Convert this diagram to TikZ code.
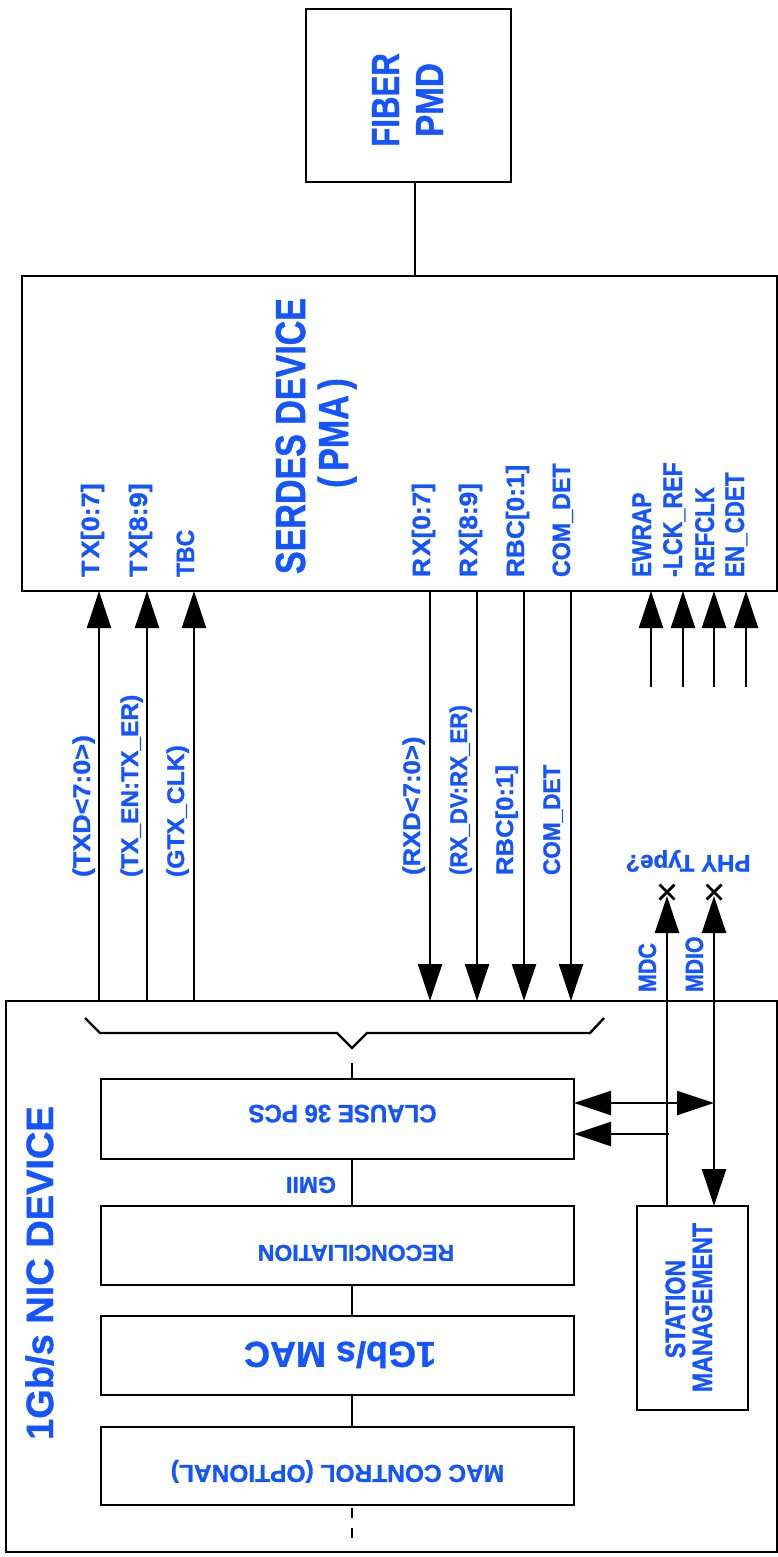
\documentclass[tikz,border=0pt]{standalone}
\usepackage{fontspec}
\setmainfont{Liberation Sans}[BoldFeatures={FakeBold=1.2}]
\usepackage{graphicx}
\usetikzlibrary{arrows.meta}
\definecolor{nicblue}{RGB}{20,85,255}
\newcommand\setfs[1]{\fontsize{#1}{#1}\selectfont\bfseries}
\newcommand\sx[2]{\scalebox{#1}[1]{#2}}
\begin{document}
\begin{tikzpicture}[x=1pt,y=-1pt,
  box/.style={draw, line width=2.6pt, inner sep=0pt, outer sep=0pt},
  wire/.style={line width=2.4pt},
  BigTri/.tip={Triangle[length=37pt,width=24pt]},
  lab/.style={text=nicblue, inner sep=0pt, outer sep=0pt},
  pin/.style={lab, rotate=90, anchor=base west},
  vlab/.style={lab, rotate=90, anchor=base},
  flip/.style={lab, rotate=180, anchor=base},
]
\useasboundingbox (0,0) rectangle (778,1557);

% boxes
\node[box, minimum width=205pt, minimum height=173pt] (fiber) at (408.5,95.5) {};
\node[box, minimum width=755pt, minimum height=315pt] (serdes) at (399.5,433.5) {};
\node[box, minimum width=771pt, minimum height=551pt] (nic) at (391.5,1276.5) {};
\node[box, minimum width=473pt, minimum height=80pt] (pcs) at (337.5,1119) {};
\node[box, minimum width=473pt, minimum height=79pt] (recon) at (337.5,1245.5) {};
\node[box, minimum width=473pt, minimum height=79pt] (mac) at (337.5,1355.5) {};
\node[box, minimum width=473pt, minimum height=78pt] (macctl) at (337.5,1466) {};
\node[box, minimum width=111pt, minimum height=204pt] (sm) at (692.5,1308) {};

% box titles
\node[vlab, font=\setfs{39}] (fib1) at (399,100) {\sx{0.8}{FIBER}};
\node[vlab, font=\setfs{39}] (fib2) at (443,100) {\sx{0.85}{PMD}};
\node[vlab, font=\setfs{42}] (ser1) at (305,436) {\sx{0.81}{SERDES DEVICE}};
\node[vlab, font=\setfs{42}] (ser2) at (348,433) {\sx{0.81}{(\,PMA\,)}};
\node[vlab, font=\setfs{38}] (nict) at (53,1273) {1Gb/s NIC DEVICE};
\node[vlab, font=\setfs{28}] (sm1) at (685,1309) {\sx{0.83}{STATION}};
\node[vlab, font=\setfs{28}] (sm2) at (712,1307.5) {\sx{0.83}{MANAGEMENT}};
\node[flip, font=\setfs{25}] (pcst) at (342.5,1105) {\sx{0.96}{CLAUSE 36 PCS}};
\node[flip, font=\setfs{23}] (gmii) at (311,1177) {GMII};
\node[flip, font=\setfs{23}] (rect) at (356,1245) {RECONCILIATION};
\node[flip, font=\setfs{36}] (mact) at (340,1342) {1Gb/s MAC};
\node[flip, font=\setfs{24.5}] (mcct) at (337.5,1465) {MAC CONTROL (OPTIONAL)};
\node[flip, font=\setfs{24}] (phy) at (688,855) {PHY Type?};

% SERDES pin labels
\node[pin, font=\setfs{25}] at (99,577) {\sx{1.08}{T\kern2pt X[0:7]}};
\node[pin, font=\setfs{25}] at (147,577) {\sx{1.08}{T\kern2pt X[8:9]}};
\node[pin, font=\setfs{25}] at (194,577) {\sx{0.92}{TBC}};
\node[pin, font=\setfs{25}] at (430,577) {\sx{1.05}{R\kern2pt X[0:7]}};
\node[pin, font=\setfs{25}] at (477,577) {\sx{1.05}{R\kern2pt X[8:9]}};
\node[pin, font=\setfs{25}] at (524,577) {\sx{1.05}{RBC[0:1]}};
\node[pin, font=\setfs{25}] at (570,577) {\sx{0.93}{COM\_DET}};
\node[pin, font=\setfs{27}] at (651,577) {\sx{0.84}{EWRAP}};
\node[pin, font=\setfs{27}] at (682,577) {\sx{0.86}{-LCK\_REF}};
\node[pin, font=\setfs{27}] at (714,577) {\sx{0.82}{REFCLK}};
\node[pin, font=\setfs{27}] at (744,577) {\sx{0.83}{EN\_CDET}};

% bus labels
\node[pin, font=\setfs{24}] at (90,877) {\sx{1.12}{(TXD<7:0>)}};
\node[pin, font=\setfs{24}] at (138,877) {\sx{1.02}{(TX\_EN:TX\_ER)}};
\node[pin, font=\setfs{24}] at (184,877) {\sx{1.03}{(GTX\_CLK)}};
\node[pin, font=\setfs{24}] at (420,875) {\sx{1.07}{(RXD<7:0>)}};
\node[pin, font=\setfs{24}] at (467,875) {\sx{0.93}{(RX\_DV:RX\_ER)}};
\node[pin, font=\setfs{24}] at (513,875) {\sx{1.07}{RBC[0:1]}};
\node[pin, font=\setfs{24}] at (560,875) {\sx{0.94}{COM\_DET}};
\node[pin, font=\setfs{25}] at (656,992) {\sx{0.86}{MDC}};
\node[pin, font=\setfs{25}] at (703,992) {\sx{0.85}{MDIO}};

% fiber to serdes
\coordinate (fx) at (415,0);
\draw[wire] (fiber.south -| fx) -- (serdes.north -| fx);

% TX arrows
\foreach \n/\x in {t1/99, t2/147, t3/194} {
  \coordinate (\n) at (\x,0);
  \draw[wire,-{BigTri}] (nic.north -| \n) -- (serdes.south -| \n);
}
% RX arrows
\foreach \n/\x in {r1/430, r2/477, r3/524, r4/571} {
  \coordinate (\n) at (\x,0);
  \draw[wire,-{BigTri}] (serdes.south -| \n) -- (nic.north -| \n);
}
% control inputs
\foreach \n/\x in {i1/651, i2/683, i3/714, i4/746} {
  \coordinate (\n) at (\x,687);
  \draw[wire,-{BigTri}] (\n) -- (serdes.south -| \n);
}

% MDC / MDIO
\coordinate (mdcx) at (667,896);
\coordinate (mdiox) at (714,896);
\draw[wire,-{BigTri}] (sm.north -| mdcx) -- (mdcx);
\draw[wire,{BigTri}-{BigTri}] (mdiox) -- (sm.north -| mdiox);
\coordinate (xm1) at (667,892);
\coordinate (xm2) at (714,892);
\draw[wire, line width=2.8pt] (xm1) ++(-7.5,-7.5) -- ++(15,15) (xm1) ++(-7.5,7.5) -- ++(15,-15);
\draw[wire, line width=2.8pt] (xm2) ++(-7.5,-7.5) -- ++(15,15) (xm2) ++(-7.5,7.5) -- ++(15,-15);

% PCS management arrows
\coordinate (a1) at (714,1103);
\coordinate (a2) at (669,1134);
\draw[wire,{BigTri}-{BigTri}] (pcs.east |- a1) -- (a1);
\draw[wire,-{BigTri}] (a2) -- (pcs.east |- a2);

% brace
\draw[wire, line join=miter] (85,1018) -- (100,1033) -- (337,1033) -- (352,1048) -- (367,1033) -- (590,1033) -- (604,1018);
\coordinate (bt) at (352,1063);
\draw[wire] (bt) -- (pcs.north -| bt);
\draw[wire] (pcs.south -| bt) -- (recon.north -| bt);
\draw[wire] (recon.south -| bt) -- (mac.north -| bt);
\draw[wire] (mac.south -| bt) -- (macctl.north -| bt);
\coordinate (dd) at (352,1508);
\draw[wire, dash pattern=on 10pt off 10pt] (dd) -- ++(0,30);
\end{tikzpicture}
\end{document}
